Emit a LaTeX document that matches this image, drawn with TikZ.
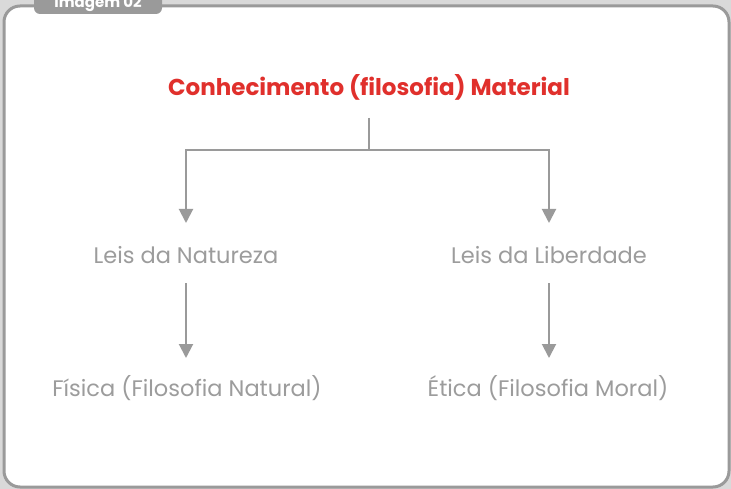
\documentclass[tikz,border=0pt]{standalone}
\usepackage{fontspec}
\setmainfont{Poppins}
\usetikzlibrary{arrows.meta}
\definecolor{bggray}{HTML}{D9D9D9}
\definecolor{framegray}{HTML}{9A9A9A}
\definecolor{txtgray}{HTML}{9C9C9C}
\definecolor{titlered}{HTML}{E0302C}
\tikzset{
  lbl/.style={text=txtgray,font=\fontsize{22.5}{26}\selectfont,inner sep=0pt},
  ttl/.style={text=titlered,font=\fontsize{23}{27}\selectfont\bfseries,inner sep=0pt},
  conn/.style={draw=framegray,line width=2pt},
  arr/.style={conn,-{Triangle[width=14pt,length=14pt]}}
}
\begin{document}
\begin{tikzpicture}[x=1pt,y=-1pt]
\fill[bggray] (0,0) rectangle (731,489);
\useasboundingbox (0,0) rectangle (731,489);
\draw[framegray,fill=white,line width=3pt,rounded corners=16pt] (4,6) rectangle (729,487);
\fill[framegray,rounded corners=6pt] (34,-10) rectangle (162,14);
\node[text=white,font=\fontsize{15}{18}\selectfont\bfseries,inner sep=0pt] (tab) at (98,4) {Imagem 02};
\node[ttl] (top) at (369,87) {Conhecimento (filosofia) Material};
\node[lbl] (nat) at (186,255) {Leis da Natureza};
\node[lbl] (lib) at (549,255) {Leis da Liberdade};
\node[lbl] (fis) at (187,388) {Física (Filosofia Natural)};
\node[lbl] (eti) at (548,388) {Ética (Filosofia Moral)};
\coordinate (j) at (369,150);
\draw[conn] (369,118) -- (j);
\draw[arr] (j) -| (186,223);
\draw[arr] (j) -| (549,223);
\draw[arr] (186,283) -- (186,358);
\draw[arr] (549,283) -- (549,358);
\end{tikzpicture}
\end{document}
